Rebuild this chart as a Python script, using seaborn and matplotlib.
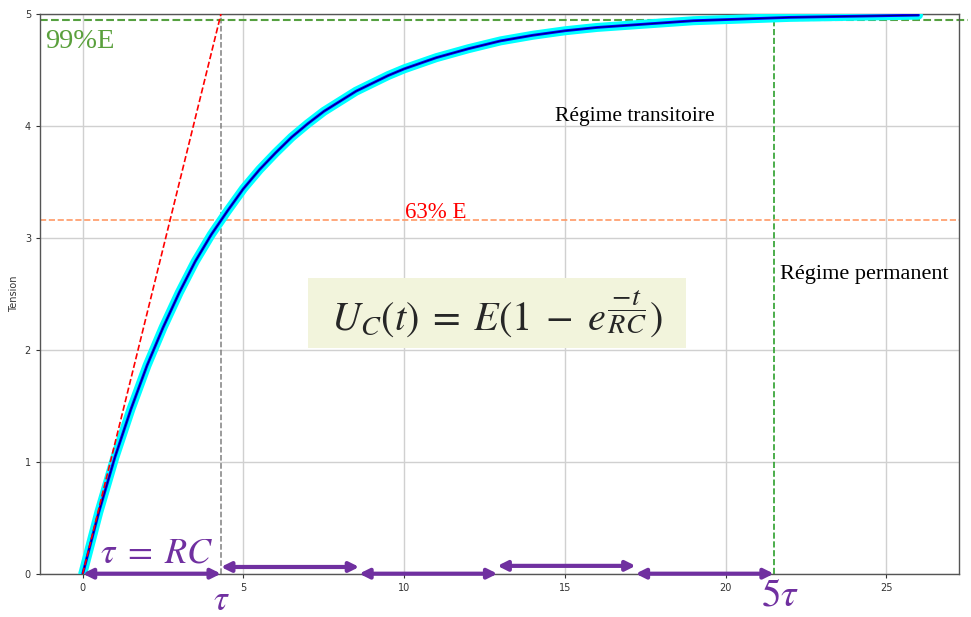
import numpy as np
import pandas as pd
import matplotlib
matplotlib.use('Agg')
import matplotlib.pyplot as plt
from matplotlib.patches import Rectangle
import seaborn as sns

# values
t_vals = [0, 0.5, 1, 1.5, 2, 2.5, 3, 3.5, 4, 4.5, 5, 5.5, 6, 6.5, 7, 7.5, 8, 8.5,
          9, 9.5, 10, 11, 12, 13, 14, 15, 16, 17, 18, 19, 20, 22, 24, 26]
u_vals = [0.00, 0.55, 1.04, 1.47, 1.86, 2.20, 2.51, 2.79, 3.03, 3.24, 3.44, 3.61,
          3.76, 3.90, 4.02, 4.13, 4.22, 4.31, 4.38, 4.45, 4.51, 4.61, 4.69, 4.76,
          4.81, 4.85, 4.88, 4.90, 4.92, 4.94, 4.95, 4.97, 4.98, 4.99]
E = 5.0
tau = 4.3
level_63 = 3.16
level_99 = 4.95
arrow_start = [0, 4.3, 8.6, 12.9, 17.2]
arrow_end = [4.3, 8.6, 12.9, 17.2, 21.5]
arrow_y = [0.0, 0.06, 0.0, 0.07, 0.0]

df = pd.DataFrame({'t': t_vals, 'Tension': u_vals})

sns.set_style('ticks')
plt.rcParams['font.family'] = ['DejaVu Sans']
plt.rcParams['mathtext.fontset'] = 'stix'

purple = '#7030A0'
serif = ['Liberation Serif', 'DejaVu Serif']

fig = plt.figure(figsize=(9.71, 6.17), dpi=100)
ax = fig.add_axes([40 / 971, 1 - 573.7 / 617, 919 / 971, 559.7 / 617])

sns.lineplot(data=df, x='t', y='Tension', ax=ax, color='cyan', lw=6.5, zorder=3)
sns.lineplot(data=df, x='t', y='Tension', ax=ax, color='blue', lw=2.0, zorder=4)
sns.lineplot(data=df, x='t', y='Tension', ax=ax, color='#000060', lw=0.6, zorder=4)

ax.set_xlim(-1.33, 27.26)
ax.set_ylim(0, 5)
ax.set_xticks([0, 5, 10, 15, 20, 25])
ax.set_yticks([0, 1, 2, 3, 4, 5])
ax.grid(True, color='#d0d0d0', lw=1)
ax.tick_params(labelsize=7, colors='#333333', length=3)
for s in ax.spines.values():
    s.set_color('#555555')
    s.set_linewidth(1)
ax.set_xlabel('')
ax.set_ylabel('Tension', fontsize=7, color='#333333')

# tangent at origin, tau, 5 tau
ax.plot([0, tau], [0, E], ls='--', color='red', lw=1.2, zorder=5)
ax.axvline(tau, ls='--', color='gray', lw=1.1, zorder=2)
ax.axvline(5 * tau, ls='--', color='#2ca02c', lw=1.2, zorder=2)
ax.axhline(level_63, ls='--', color='#ff9966', lw=1.2, zorder=2)
ax.plot([-1.33, 27.55], [level_99, level_99], ls='--', color='#55a040', lw=1.5,
        clip_on=False, zorder=2)

for x0, x1, y in zip(arrow_start, arrow_end, arrow_y):
    ax.annotate('', xy=(x1, y), xytext=(x0, y),
                arrowprops=dict(arrowstyle='<|-|>', color=purple, lw=3,
                                mutation_scale=14, shrinkA=0, shrinkB=0),
                annotation_clip=False, zorder=6)

ax.text(-1.17, 4.75, '99%E', color='#5aa03c', fontsize=20.5, family=serif,
        va='center', ha='left')
ax.text(10.03, 3.18, '63% E', color='red', fontsize=16.5, family=serif,
        va='baseline', ha='left')
ax.text(14.69, 4.08, 'Régime transitoire', color='black', fontsize=15.5,
        family=serif, va='center', ha='left')
ax.text(21.69, 2.67, 'Régime permanent', color='black', fontsize=16,
        family=serif, va='center', ha='left')

# formula box
ax.add_patch(Rectangle((7.01, 2.016), 11.76, 0.626, fc='#F2F4DC', ec='none',
                       zorder=6))
ax.text(12.89, 2.33, r'$U_C(t)\;=\;E(1\;-\;e^{\dfrac{-t}{RC}})$', fontsize=29,
        ha='center', va='center', zorder=7)

ax.text(2.31, 0.10, r'$\tau\;=\;RC$', color=purple, fontsize=26,
        ha='center', va='baseline', zorder=7)
ax.text(4.3, -0.08, r'$\tau$', color=purple, fontsize=25,
        ha='center', va='top', clip_on=False)
ax.text(21.7, -0.02, r'$5\tau$', color=purple, fontsize=28,
        ha='center', va='top', clip_on=False)

fig.savefig('out.png', dpi=100)
